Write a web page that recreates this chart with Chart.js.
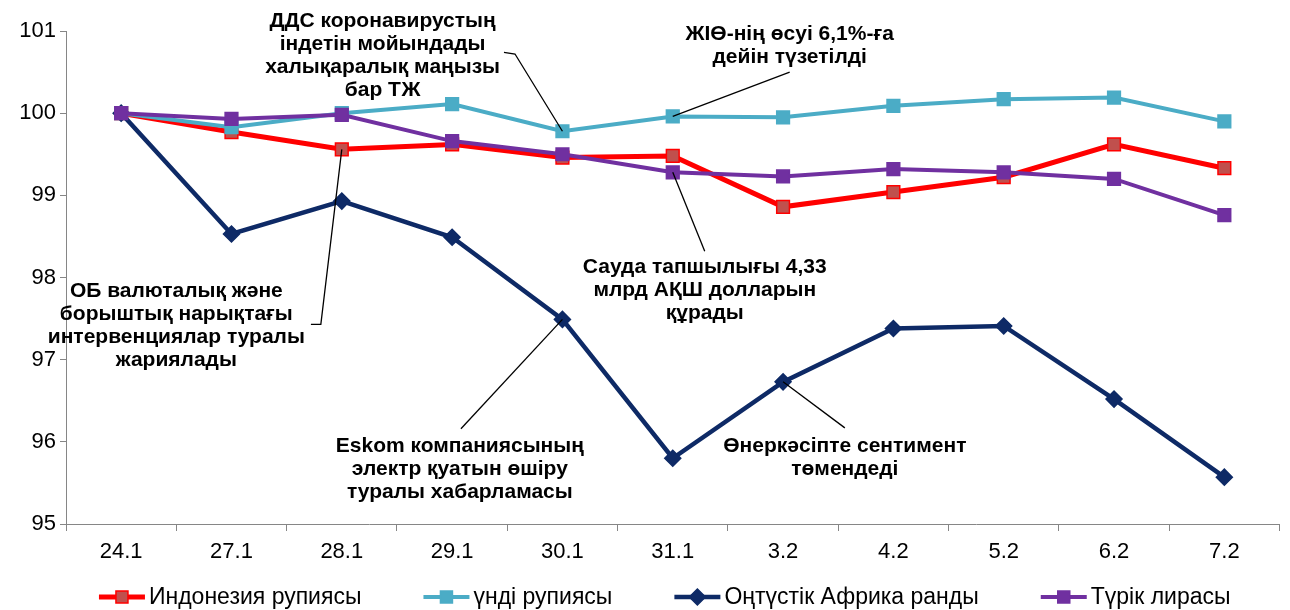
<!DOCTYPE html>
<html>
<head>
<meta charset="utf-8">
<script src="https://cdn.jsdelivr.net/npm/chart.js@4/dist/chart.umd.min.js"></script>
<style>
	html, body { margin: 0; padding: 0; background: #fff; }
	#wrap { width: 1290px; height: 610px; }
</style>
</head>
<body>
<div id="wrap"><canvas id="fx-chart"></canvas></div>
<script>
// dates
const categories = ['24.1', '27.1', '28.1', '29.1', '30.1', '31.1', '3.2', '4.2', '5.2', '6.2', '7.2'];

// index values, 24.1 = 100
const idr = [100, 99.77, 99.56, 99.62, 99.46, 99.48, 98.86, 99.04, 99.22, 99.62, 99.33];
const inr = [100, 99.83, 100.0, 100.11, 99.78, 99.96, 99.95, 100.09, 100.17, 100.19, 99.90];
const zar = [100, 98.53, 98.93, 98.49, 97.49, 95.80, 96.73, 97.38, 97.41, 96.52, 95.57];
const tryl = [100, 99.93, 99.98, 99.66, 99.50, 99.28, 99.23, 99.32, 99.28, 99.20, 98.76];

const seriesNames = ['Индонезия рупиясы', 'үнді рупиясы', 'Оңтүстік Африка ранды', 'Түрік лирасы'];
const yTicks = [95, 96, 97, 98, 99, 100, 101];

const FONT = "'Liberation Sans', Arial, sans-serif";

// callouts: text lines, text position (category index, value), leader path, target point
const notes = [
	{ lines: ['ДДС коронавирустың', 'індетін мойындады', 'халықаралық маңызы', 'бар ТЖ'],
		at: [2.37, 101.12], path: [[3.47, 100.74], [3.57, 100.72]], ds: 1, idx: 4 },
	{ lines: ['ЖІӨ-нің өсуі 6,1%-ға', 'дейін түзетілді'],
		at: [6.06, 100.96], path: [[6.06, 100.50]], ds: 1, idx: 5 },
	{ lines: ['ОБ валюталық және', 'борыштық нарықтағы', 'интервенциялар туралы', 'жариялады'],
		at: [0.50, 97.83], path: [[1.72, 97.43], [1.81, 97.43]], ds: 0, idx: 2 },
	{ lines: ['Сауда тапшылығы 4,33', 'млрд АҚШ долларын', 'құрады'],
		at: [5.29, 98.13], path: [[5.29, 98.32]], ds: 3, idx: 5 },
	{ lines: ['Eskom компаниясының', 'электр қуатын өшіру', 'туралы хабарламасы'],
		at: [3.07, 95.95], path: [[3.08, 96.16]], ds: 2, idx: 4 },
	{ lines: ['Өнеркәсіпте сентимент', 'төмендеді'],
		at: [6.56, 95.95], path: [[6.56, 96.17]], ds: 2, idx: 6 },
];

const drawMarker = (g, ds, x, y) => {
	g.fillStyle = ds.pointBackgroundColor;
	g.strokeStyle = ds.pointBorderColor;
	g.lineWidth = ds.pointBorderWidth;
	g.beginPath();
	if (ds.pointStyle === 'rectRot') {
		g.moveTo(x, y - 8); g.lineTo(x + 8, y); g.lineTo(x, y + 8); g.lineTo(x - 8, y); g.closePath();
	} else {
		g.rect(x - 6, y - 6, 12, 12);
	}
	g.fill(); g.stroke();
};

const calloutPlugin = {
	id: 'callouts',
	afterDatasetsDraw(chart) {
		const ctx = chart.ctx;
		const xs = chart.scales.x, ys = chart.scales.y;
		const px = (i) => xs.getPixelForValue(i);
		ctx.save();
		notes.forEach((n) => {
			const pt = chart.getDatasetMeta(n.ds).data[n.idx];
			ctx.strokeStyle = '#000';
			ctx.lineWidth = 1.3;
			ctx.beginPath();
			n.path.forEach((p, k) => {
				if (k == 0) ctx.moveTo(px(p[0]), ys.getPixelForValue(p[1]));
				else ctx.lineTo(px(p[0]), ys.getPixelForValue(p[1]));
			});
			ctx.lineTo(pt.x, pt.y);
			ctx.stroke();

			ctx.fillStyle = '#000';
			ctx.font = 'bold 21px ' + FONT;
			ctx.textAlign = 'center';
			ctx.textBaseline = 'middle';
			const x0 = px(n.at[0]);
			const y0 = ys.getPixelForValue(n.at[1]);
			n.lines.forEach((t, k) => ctx.fillText(t, x0, y0 + k * 23));
		});
		ctx.restore();
	}
};

// legend row under the axis: line + marker, then name
const legendPlugin = {
	id: 'rowLegend',
	afterDraw(chart) {
		const ctx = chart.ctx;
		const sets = chart.data.datasets;
		const gap = 62, icon = 46, textGap = 4;
		ctx.save();
		ctx.font = '23px ' + FONT;
		const widths = sets.map((ds) => icon + textGap + ctx.measureText(ds.label).width);
		const total = widths.reduce((a, b) => a + b, 0) + gap * (sets.length - 1);
		let x = (chart.chartArea.left + chart.chartArea.right) / 2 - 8 - total / 2;
		const y = chart.height - 13;
		sets.forEach((ds, i) => {
			ctx.strokeStyle = ds.borderColor;
			ctx.lineWidth = ds.borderWidth;
			ctx.beginPath(); ctx.moveTo(x, y); ctx.lineTo(x + icon, y); ctx.stroke();
			drawMarker(ctx, ds, x + icon / 2, y);
			ctx.fillStyle = '#000';
			ctx.textAlign = 'left';
			ctx.textBaseline = 'middle';
			ctx.fillText(ds.label, x + icon + textGap, y + 1);
			x += widths[i] + gap;
		});
		ctx.restore();
	}
};

const makeSet = (label, data, color, fill, style, radius, width, order) => ({
	label: label,
	data: data,
	borderColor: color,
	backgroundColor: color,
	borderWidth: width,
	pointStyle: style,
	pointRadius: radius,
	pointHoverRadius: radius,
	pointBackgroundColor: fill,
	pointBorderColor: color,
	pointBorderWidth: 1.5,
	tension: 0,
	order: order
});

const datasets = [
	makeSet(seriesNames[0], idr, '#FF0000', '#C0504D', 'rect', 9, 5, 3),
	makeSet(seriesNames[1], inr, '#4BACC6', '#4BACC6', 'rect', 9, 4, 2),
	makeSet(seriesNames[2], zar, '#0E2A66', '#0E2A66', 'rectRot', 8, 4.5, 1),
	makeSet(seriesNames[3], tryl, '#7030A0', '#7030A0', 'rect', 9, 4, 0),
];

new Chart(document.getElementById('fx-chart'), {
	type: 'line',
	data: { labels: categories, datasets: datasets },
	options: {
		responsive: true,
		maintainAspectRatio: false,
		animation: false,
		layout: { padding: { top: 31, right: 5, left: 0, bottom: 46 } },
		scales: {
			x: {
				offset: true,
				grid: { display: true, offset: true, drawOnChartArea: false, drawTicks: true, tickLength: 7, color: '#868686' },
				border: { color: '#868686', width: 1 },
				ticks: { color: '#000', font: { family: FONT, size: 22 }, padding: 8, maxRotation: 0 },
				afterFit: (s) => { s.height = 40; }
			},
			y: {
				min: 95,
				max: 101,
				afterBuildTicks: (s) => { s.ticks = yTicks.map((v) => ({ value: v })); },
				grid: { display: true, drawOnChartArea: false, drawTicks: true, tickLength: 6, color: '#868686' },
				border: { color: '#868686', width: 1 },
				ticks: { color: '#000', font: { family: FONT, size: 22 }, padding: 4 },
				afterFit: (s) => { s.width = 66; }
			}
		},
		plugins: {
			tooltip: { enabled: false },
			legend: { display: false }
		}
	},
	plugins: [calloutPlugin, legendPlugin]
});
</script>
</body>
</html>
